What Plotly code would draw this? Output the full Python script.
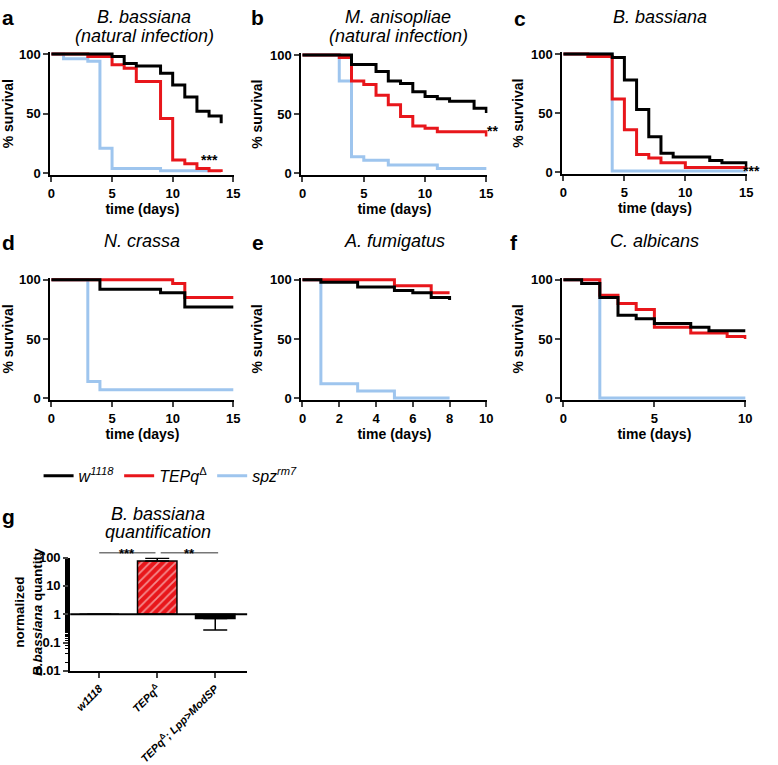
import plotly.graph_objects as go

# ---------------- data ----------------
# Panel a: B. bassiana (natural infection)
a_black_t = [0, 5, 6, 7, 9, 10, 11, 12, 13, 14]
a_black_s = [100, 98, 92, 90, 84, 74, 64, 52, 48, 42]
a_red_t = [0, 3, 5, 6, 7, 9, 10, 11, 12, 13, 14]
a_red_s = [100, 98, 91, 88, 77, 46, 11, 8, 4, 2, 1]
a_blue_t = [0, 1, 3, 4, 5, 9, 13]
a_blue_s = [100, 96, 94, 21, 4, 2, 2]

# Panel b: M. anisopliae (natural infection)
b_black_t = [0, 4, 6, 7, 8, 9, 10, 11, 12, 14, 15]
b_black_s = [100, 92, 86, 78, 76, 69, 65, 63, 61, 55, 51]
b_red_t = [0, 3, 4, 5, 6, 7, 8, 9, 10, 11, 15]
b_red_s = [100, 98, 78, 75, 66, 58, 48, 40, 38, 35, 31]
b_blue_t = [0, 3, 4, 5, 7, 11, 15]
b_blue_s = [100, 78, 14, 11, 7, 4, 4]

# Panel c: B. bassiana
c_black_t = [0, 4, 5, 6, 7, 8, 9, 12, 13, 15]
c_black_s = [100, 97, 78, 53, 30, 16, 13, 10, 8, 5]
c_red_t = [0, 2, 4, 5, 6, 7, 8, 10, 15]
c_red_s = [100, 98, 62, 36, 15, 12, 8, 4, 2]
c_blue_t = [0, 4, 15]
c_blue_s = [100, 1, 1]

# Panel d: N. crassa
d_black_t = [0, 4, 9, 11, 15]
d_black_s = [100, 92, 89, 77, 77]
d_red_t = [0, 10, 11, 15]
d_red_s = [100, 97, 85, 85]
d_blue_t = [0, 3, 4, 15]
d_blue_s = [100, 14, 7, 7]

# Panel e: A. fumigatus
e_black_t = [0, 1, 3, 5, 6, 7, 8]
e_black_s = [100, 98, 94, 91, 89, 85, 83]
e_red_t = [0, 5, 7, 8]
e_red_s = [100, 95, 89, 89]
e_blue_t = [0, 1, 3, 5, 8]
e_blue_s = [100, 12, 6, 0, 0]

# Panel f: C. albicans
f_black_t = [0, 1, 2, 3, 4, 5, 7, 8, 10]
f_black_s = [100, 97, 85, 70, 67, 63, 60, 57, 57]
f_red_t = [0, 2, 3, 4, 5, 7, 9, 10]
f_red_s = [100, 87, 80, 75, 60, 55, 52, 50]
f_blue_t = [0, 2, 10]
f_blue_s = [100, 0, 0]

# Panel g: B. bassiana quantification
g_categories = ["<i>w1118</i>", "<i>TEPq</i><sup>Δ</sup>", "<i>TEPq</i><sup>Δ</sup><i>; Lpp>ModSP</i>"]
g_values = [1.0, 75.0, 0.7]
g_err_plus = [0.0, 20.0, 0.0]
g_err_minus = [0.0, 0.0, 0.42]
g_baseline = 1.0

series_names = ["<i>w</i><sup><i>1118</i></sup>", "<i>TEPq</i><sup>Δ</sup>", "<i>spz</i><sup><i>rm7</i></sup>"]

# ---------------- styling ----------------
W, H = 778, 765
BLACK = "#000000"
RED = "#e8161b"
BLUE = "#9ec5ee"
FONT = "Liberation Sans"
PAD_Y = 1.8
PAD_X_FRAC = 0.006

fig = go.Figure()


def dom_x(p0, p1, pad_frac=PAD_X_FRAC):
    span = p1 - p0
    return [(p0 - span * pad_frac) / W, (p1 + span * pad_frac) / W]


def dom_y(p100, p0, pad=PAD_Y):
    slope = (p0 - p100) / 100.0
    return [1 - (p0 + pad * slope) / H, 1 - (p100 - pad * slope) / H]


panels = [
    ("", (49, 233), (49, 173), 15, 5,
     [(a_blue_t, a_blue_s, BLUE), (a_red_t, a_red_s, RED), (a_black_t, a_black_s, BLACK)]),
    ("2", (303, 489), (50, 173), 15, 5,
     [(b_blue_t, b_blue_s, BLUE), (b_red_t, b_red_s, RED), (b_black_t, b_black_s, BLACK)]),
    ("3", (567, 752), (49, 172), 15, 5,
     [(c_blue_t, c_blue_s, BLUE), (c_red_t, c_red_s, RED), (c_black_t, c_black_s, BLACK)]),
    ("4", (49, 233), (284, 407), 15, 5,
     [(d_blue_t, d_blue_s, BLUE), (d_red_t, d_red_s, RED), (d_black_t, d_black_s, BLACK)]),
    ("5", (303, 489), (284, 407), 10, 2,
     [(e_blue_t, e_blue_s, BLUE), (e_red_t, e_red_s, RED), (e_black_t, e_black_s, BLACK)]),
    ("6", (567, 751), (284, 407), 10, 5,
     [(f_blue_t, f_blue_s, BLUE), (f_red_t, f_red_s, RED), (f_black_t, f_black_s, BLACK)]),
]

tickfont = dict(family=FONT, size=13, color=BLACK, weight="bold")
titlefont = dict(family=FONT, size=14, color=BLACK, weight="bold")

layout_axes = {}
for idx, (suf, xpx, ypx, xmax, dtick, data) in enumerate(panels):
    padx = xmax * PAD_X_FRAC
    for j, (t, s, col) in enumerate(data):
        name = series_names[2 - j]
        fig.add_trace(go.Scatter(
            x=t, y=s, mode="lines", line=dict(color=col, width=3, shape="hv"),
            xaxis="x" + suf, yaxis="y" + suf, name=name,
            showlegend=(idx == 0), legendrank=[3, 2, 1][j], hoverinfo="skip"))
    layout_axes["xaxis" + suf] = dict(
        domain=dom_x(*xpx), range=[-padx, xmax + padx], anchor="y" + suf,
        tickvals=list(range(0, xmax + 1, dtick)), ticks="outside", ticklen=5, tickwidth=2,
        showline=True, linewidth=2, linecolor=BLACK, showgrid=False, zeroline=False,
        tickfont=tickfont, title=dict(text="time (days)", font=titlefont, standoff=2))
    layout_axes["yaxis" + suf] = dict(
        domain=dom_y(*ypx), range=[-PAD_Y, 100 + PAD_Y], anchor="x" + suf,
        tickvals=[0, 50, 100], ticks="outside", ticklen=5, tickwidth=2,
        showline=True, linewidth=2, linecolor=BLACK, showgrid=False, zeroline=False,
        tickfont=tickfont, title=dict(text="% survival", font=titlefont, standoff=4))

# Panel g bars
g_len = [v - g_baseline for v in g_values]
fig.add_trace(go.Bar(
    x=g_categories, y=g_len, base=[g_baseline] * len(g_values),
    xaxis="x7", yaxis="y7", width=0.68, showlegend=False, hoverinfo="skip",
    marker=dict(color=["white", RED, BLACK], line=dict(color=BLACK, width=1.5),
                pattern=dict(shape=["", "/", ""], fgcolor="#3a0000", size=6, solidity=0.3,
                             fillmode="overlay")),
    error_y=dict(type="data", symmetric=False, array=g_err_plus, arrayminus=g_err_minus,
                 color=BLACK, thickness=1.5, width=12),
))

layout_axes["xaxis7"] = dict(
    domain=[68 / W, 247 / W], range=[-0.5, 2.55], anchor="y7",
    ticks="outside", ticklen=5, tickwidth=2, tickangle=-45,
    showline=True, linewidth=2, linecolor=BLACK, showgrid=False, zeroline=False,
    tickfont=dict(family=FONT, size=11, color=BLACK, weight="bold"))
layout_axes["yaxis7"] = dict(
    domain=[1 - 691 / H, 1 - 573 / H], type="log", range=[-2, 2], anchor="x7",
    tickvals=[0.01, 0.1, 1, 10, 100], ticktext=["0.01", "0.1", "1", "10", "100"],
    ticks="outside", ticklen=5, tickwidth=2,
    minor=dict(ticks="outside", ticklen=3, tickwidth=1, tickcolor=BLACK, showgrid=False),
    showline=True, linewidth=2, linecolor=BLACK, showgrid=False, zeroline=False,
    tickfont=tickfont)

shapes = [
    dict(type="line", xref="x7 domain", yref="y7", x0=0, x1=1, y0=g_baseline, y1=g_baseline,
         line=dict(color=BLACK, width=2), layer="above"),
]

annotations = []
# y-axis title of panel g (placed close to the axis as in the original)
annotations.append(dict(x=26 / W, y=1 - 630 / H, xref="paper", yref="paper",
                        text="normalized<br><i>B.bassiana</i> quantity", textangle=-90,
                        showarrow=False, xanchor="center", yanchor="middle",
                        font=dict(family=FONT, size=13.5, color=BLACK, weight="bold")))

# significance brackets (panel g)
sig_pairs = [(0, 0.97, "***"), (1.06, 2.05, "**")]
y_sig = 1 - 568 / H
for x0, x1, lab in sig_pairs:
    shapes.append(dict(type="line", xref="x7", yref="paper", x0=x0, x1=x1, y0=y_sig, y1=y_sig,
                       line=dict(color="#777777", width=1.5)))
    annotations.append(dict(x=(x0 + x1) / 2, y=y_sig, xref="x7", yref="paper", text=lab,
                            showarrow=False, yanchor="bottom", yshift=-10,
                            font=dict(family=FONT, size=13, color=BLACK, weight="bold")))

# panel letters
letters = [("a", 5, 11), ("b", 257, 11), ("c", 523, 12), ("d", 6, 245), ("e", 258, 245),
           ("f", 517, 245), ("g", 6, 530)]
for lt, xp, yp in letters:
    annotations.append(dict(x=xp / W, y=1 - yp / H, xref="paper", yref="paper", text=lt,
                            showarrow=False, xanchor="center", yanchor="middle",
                            font=dict(family=FONT, size=21, color=BLACK, weight="bold")))

titles = [
    ("<i>B. bassiana</i>", 143, 10), ("<i>(natural infection)</i>", 143, 30),
    ("<i>M. anisopliae</i>", 400, 10), ("<i>(natural infection)</i>", 400, 30),
    ("<i>B. bassiana</i>", 665, 10),
    ("<i>N. crassa</i>", 141, 244),
    ("<i>A. fumigatus</i>", 396, 244),
    ("<i>C. albicans</i>", 659, 244),
    ("<i>B. bassiana</i>", 157, 528), ("<i>quantification</i>", 157, 546),
]
for txt, xp, yp in titles:
    annotations.append(dict(x=xp / W, y=1 - yp / H, xref="paper", yref="paper", text=txt,
                            showarrow=False, xanchor="center", yanchor="middle",
                            font=dict(family=FONT, size=18, color=BLACK)))

# significance stars on survival panels (x in axis-domain units)
stars = [("x domain", "y", 0.92, 11, "***"), ("x2 domain", "y2", 1.065, 36, "**"),
         ("x3 domain", "y3", 1.08, 1, "***")]
for xr, yr, xv, yv, lab in stars:
    annotations.append(dict(x=xv, y=yv, xref=xr, yref=yr, text=lab, showarrow=False,
                            font=dict(family=FONT, size=14, color=BLACK, weight="bold")))

fig.update_layout(
    width=W, height=H, margin=dict(l=0, r=0, t=0, b=0),
    paper_bgcolor="white", plot_bgcolor="white",
    font=dict(family=FONT, color=BLACK),
    shapes=shapes, annotations=annotations,
    legend=dict(orientation="h", x=36 / W, y=1 - 488 / H, xanchor="left", yanchor="middle",
                font=dict(family=FONT, size=16, color=BLACK),
                traceorder="normal", bgcolor="rgba(0,0,0,0)"),
    **layout_axes,
)

fig.write_html("out.html", config={"displayModeBar": False},
               post_script="document.body.style.margin='0px';")
